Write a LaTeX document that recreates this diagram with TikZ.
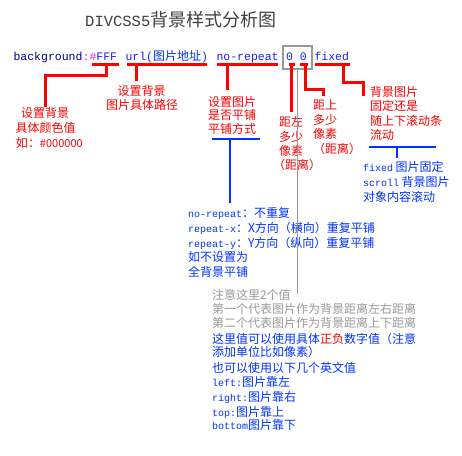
\documentclass[tikz,border=0pt]{standalone}
\usepackage{fontspec}
\setmonofont{Liberation Mono}
\newfontfamily\cjk{Noto Sans CJK SC}
\definecolor{cssred}{HTML}{FF0000}
\definecolor{cssblue}{HTML}{0033FF}
\definecolor{cssnavy}{HTML}{000099}
\definecolor{csspink}{HTML}{E020E0}
\definecolor{cssval}{HTML}{2020E0}
\definecolor{notegray}{HTML}{999999}
\definecolor{titlegray}{HTML}{404040}
\newcommand\cmono[1]{{\ttfamily\fontsize{10}{12}\selectfont #1}}
\tikzset{
  txt/.style={inner sep=0pt, outer sep=0pt, anchor=base west, font=\cjk\fontsize{12}{14}\selectfont},
  redtxt/.style={txt, text=cssred},
  bluetxt/.style={txt, text=cssblue},
  graytxt/.style={txt, text=notegray},
  code/.style={inner sep=0pt, outer sep=0pt, anchor=base west, text=cssval, font=\ttfamily\fontsize{11.5}{13}\selectfont},
  redline/.style={draw=cssred, line width=3pt},
  blueline/.style={draw=cssblue, line width=2.2pt},
  thinblue/.style={draw=cssblue, line width=1.2pt},
  grayline/.style={draw=notegray, line width=1.3pt},
}
\begin{document}
\begin{tikzpicture}[x=1pt, y=-1pt]
\useasboundingbox[fill=white] (0,0) rectangle (462,455);

% title
\node[inner sep=0pt, anchor=base west, text=titlegray] (title) at (85,26)
  {{\ttfamily\fontsize{15.5}{18}\selectfont DIVCSS5}{\cjk\fontsize{18}{20}\selectfont 背景样式分析图}};

% the CSS declaration
\node[code, text=cssnavy] (bgkey) at (13.5,60) {background\textcolor{csspink}{:}};
\node[code] (fff) at (89.5,60) {\textcolor{csspink}{\#}FFF};
\node[code] (url) at (125.5,60) {url(\textcolor{cssblue}{\cjk\fontsize{12}{14}\selectfont 图片地址})};
\node[code] (norep) at (216.5,60) {no-repeat};
\node[code] (zeros) at (286,60) {0 0};
\node[code] (fixed) at (314.5,60) {fixed};
\node[draw=notegray, line width=1.2pt, inner sep=0pt, minimum width=29pt, minimum height=23pt] (posbox) at (297.5,57.5) {};

% red underlines
\draw[redline] (92,64) -- (119,64);
\draw[redline] (127,64) -- (207,64);
\draw[redline] (217,64) -- (278,64);
\draw[redline] (289,64) -- (295,64);
\draw[redline] (300,64) -- (308,64);
\draw[redline] (315,64) -- (350,64);
\coordinate (ulFFF) at (106,64);
\coordinate (ulURL) at (136,64);
\coordinate (ulRep) at (227,64);
\coordinate (ulX) at (291.5,64);
\coordinate (ulY) at (305,64);
\coordinate (ulFix) at (343,64);

% red notes
\node[redtxt, anchor=base] (colA1) at (45,117.5) {设置背景};
\node[redtxt, anchor=base] (colA2) at (45.5,132.5) {具体颜色值};
\node[redtxt] (colA3) at (16,147.5) {如：{\fontsize{11}{13}\selectfont\#000000}};

\node[redtxt, anchor=base] (urlA1) at (141.5,95.5) {设置背景};
\node[redtxt, anchor=base] (urlA2) at (142,109.5) {图片具体路径};

\node[redtxt] (repA1) at (208,106) {设置图片};
\node[redtxt] (repA2) at (208,119.5) {是否平铺};
\node[redtxt] (repA3) at (208,133) {平铺方式};

\node[redtxt] (xA1) at (279,126.5) {距左};
\node[redtxt] (xA2) at (279,141) {多少};
\node[redtxt] (xA3) at (279,155) {像素};
\node[redtxt] (xA4) at (273,169.5) {（距离）};

\node[redtxt] (yA1) at (313,109.5) {距上};
\node[redtxt] (yA2) at (313,124) {多少};
\node[redtxt] (yA3) at (313,138.5) {像素};
\node[redtxt] (yA4) at (313,153) {（距离）};

\node[redtxt] (fixA1) at (370,96.5) {背景图片};
\node[redtxt] (fixA2) at (370,110.5) {固定还是};
\node[redtxt] (fixA3) at (370,125.5) {随上下滚动条};
\node[redtxt] (fixA4) at (370,139.5) {流动};

% red connectors
\draw[redline] (ulFFF) -- ++(0,11) -| (colA1.north);
\draw[redline] (ulURL) -- ++(0,17);
\draw[redline] (ulRep) -- ++(0,26);
\draw[redline] (ulX) -- ++(0,48);
\draw[redline] (ulY) -- ++(0,25) -- ++(18,0) -- ++(0,7);
\draw[redline] (ulFix) -- ++(0,18) -- ++(20,0) -- ++(0,14);

% repeat values
\coordinate (repBar) at (230,139);
\draw[blueline] (212,139) -- (260,139);
\draw[blueline] (repBar) -- ++(0,64);
\node[bluetxt] (rp1) at (188,217.5) {\cmono{no-repeat}：不重复};
\node[bluetxt] (rp2) at (188,232.5) {\cmono{repeat-x}：X方向（横向）重复平铺};
\node[bluetxt] (rp3) at (188,247.5) {\cmono{repeat-y}：Y方向（纵向）重复平铺};
\node[bluetxt] (rp4) at (188,261.5) {如不设置为};
\node[bluetxt] (rp5) at (188,276.5) {全背景平铺};

% attachment values
\coordinate (fixBar) at (397,147);
\draw[thinblue] (369,147) -- (436,147);
\draw[thinblue] (fixBar) -- ++(0,11);
\node[bluetxt] (fx1) at (363,171.5) {\cmono{fixed} 图片固定};
\node[bluetxt] (fx2) at (363,186.5) {\cmono{scroll} 背景图片};
\node[bluetxt] (fx3) at (363,201.5) {对象内容滚动};

% position values
\draw[grayline] (posbox.south) -- ++(0,224);
\node[graytxt] (ps1) at (212,299.5) {注意这里2个值};
\node[graytxt] (ps2) at (212,313.5) {第一个代表图片作为背景距离左右距离};
\node[graytxt] (ps3) at (212,327.5) {第二个代表图片作为背景距离上下距离};
\node[bluetxt] (ps4) at (212,343.5) {这里值可以使用具体\textcolor{cssred}{正负}数字值（注意};
\node[bluetxt] (ps5) at (212,356.5) {添加单位比如像素）};
\node[bluetxt] (ps6) at (212,372.5) {也可以使用以下几个英文值};
\node[bluetxt] (ps7) at (212,386.5) {\cmono{left:}图片靠左};
\node[bluetxt] (ps8) at (212,401.5) {\cmono{right:}图片靠右};
\node[bluetxt] (ps9) at (212,416.5) {\cmono{top:}图片靠上};
\node[bluetxt] (ps10) at (212,429.5) {\cmono{bottom}图片靠下};
\end{tikzpicture}
\end{document}
